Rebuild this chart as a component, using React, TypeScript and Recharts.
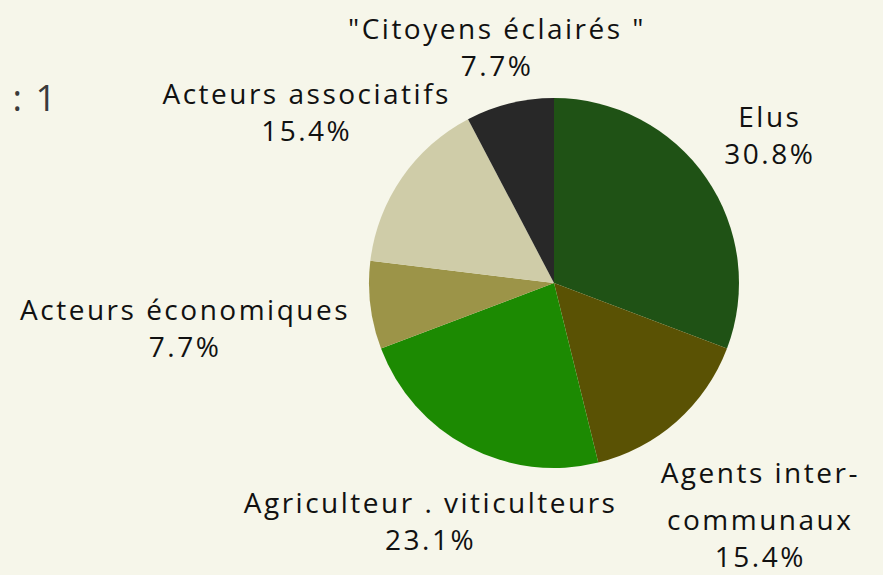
import React from 'react';
import { PieChart, Pie, Cell } from 'recharts';

const categories = [
  'Elus',
  'Agents inter-communaux',
  'Agriculteur . viticulteurs',
  'Acteurs économiques',
  'Acteurs associatifs',
  '"Citoyens éclairés "',
];
const counts = [4, 2, 3, 1, 2, 1];
const colors = ['#1f5215', '#5a5204', '#1c8a02', '#9c9448', '#cfcca8', '#282828'];
const titleText = 'Nombre de répondants : 1';

const W = 883;
const H = 575;
const BG = '#f6f6ea';
const FONT = '"Open Sans", "Noto Sans", sans-serif';
const FS = 28;
const LS = 2.5;
const NAME_LINE = 47;
const PCT_LINE = 37;
const HALF_INK = 12;
const GAP = 22;

const data = categories.map((name, i) => ({ name, value: counts[i] }));

let ctx: CanvasRenderingContext2D | null = null;
function measure(t: string): number {
  if (!ctx) {
    const c = document.createElement('canvas');
    ctx = c.getContext('2d');
  }
  if (!ctx) return t.length * FS * 0.6;
  ctx.font = `${FS}px ${FONT}`;
  return ctx.measureText(t).width + (t.length - 1) * LS;
}

function splitName(name: string): string[] {
  const idx = name.indexOf('-');
  if (idx > 0 && idx < name.length - 1) {
    return [name.slice(0, idx + 1), name.slice(idx + 1)];
  }
  return [name];
}

const renderLabel = (props: any) => {
  const { cx, cy, midAngle, outerRadius, percent, name, index } = props;
  const nameLines = splitName(name);
  const lines = [...nameLines, `${(percent * 100).toFixed(1)}%`];
  const offs: number[] = [];
  let acc = 0;
  for (let i = 0; i < lines.length; i++) {
    offs.push(acc);
    acc += i < nameLines.length - 1 ? NAME_LINE : PCT_LINE;
  }
  const total = offs[offs.length - 1];
  const rel = offs.map((o) => o - total / 2);
  const halfW = lines.map((l) => measure(l) / 2);
  const rad = (midAngle * Math.PI) / 180;
  const ux = Math.cos(rad);
  const uy = -Math.sin(rad);
  const target = outerRadius + GAP;
  const minDist = (t: number) => {
    let best = Infinity;
    for (let i = 0; i < lines.length; i++) {
      const px = t * ux;
      const py = t * uy + rel[i];
      const dx = Math.max(Math.abs(px) - halfW[i], 0);
      const dy = Math.max(Math.abs(py) - HALF_INK, 0);
      best = Math.min(best, Math.sqrt(dx * dx + dy * dy));
    }
    return best;
  };
  let lo = 0;
  let hi = 1200;
  for (let k = 0; k < 60; k++) {
    const t = (lo + hi) / 2;
    if (minDist(t) < target) lo = t;
    else hi = t;
  }
  const x0 = cx + hi * ux + LS / 2;
  const y0 = cy + hi * uy;
  return (
    <g key={`lbl-${index}`}>
      {lines.map((ln, i) => (
        <text
          key={i}
          x={x0}
          y={y0 + rel[i]}
          textAnchor="middle"
          dominantBaseline="central"
          fill="#111111"
          fontSize={FS}
          fontFamily={FONT}
          letterSpacing={LS}
        >
          {ln}
        </text>
      ))}
    </g>
  );
};

export default function App() {
  return (
    <div style={{ position: 'fixed', left: 0, top: 0, width: W, height: H, background: BG }}>
      <PieChart width={W} height={H} margin={{ top: 0, right: 0, bottom: 0, left: 0 }}>
        <text
          x={58}
          y={111}
          textAnchor="end"
          fill="#3a3a3a"
          fontSize={36}
          fontFamily={FONT}
          letterSpacing={2}
        >
          {titleText}
        </text>
        <Pie
          data={data}
          dataKey="value"
          nameKey="name"
          cx={554}
          cy={283}
          outerRadius={185}
          startAngle={90}
          endAngle={-270}
          stroke="none"
          label={renderLabel}
          labelLine={false}
          isAnimationActive={false}
        >
          {data.map((d, i) => (
            <Cell key={d.name} fill={colors[i]} />
          ))}
        </Pie>
      </PieChart>
    </div>
  );
}
